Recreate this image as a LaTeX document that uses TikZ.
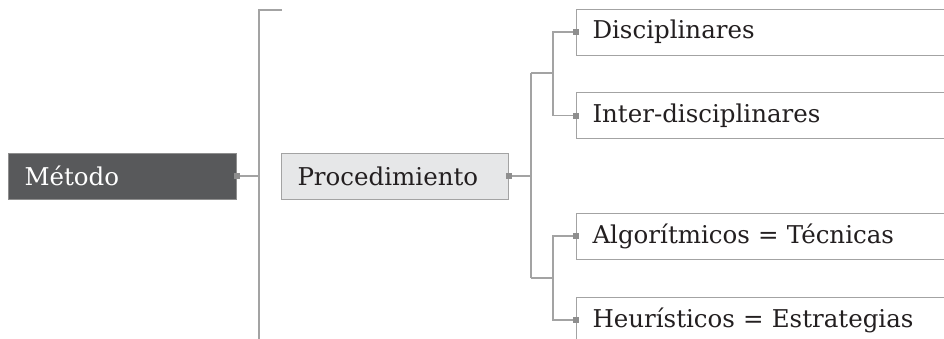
\documentclass[tikz,border=0pt]{standalone}
\usepackage{fontspec}
\setmainfont{DejaVu Serif}
\usetikzlibrary{calc}
\definecolor{linegray}{HTML}{A3A3A3}
\definecolor{dotgray}{HTML}{8E8E8E}
\definecolor{darkbox}{HTML}{58595B}
\definecolor{lightbox}{HTML}{E6E7E8}
\definecolor{inktext}{HTML}{231F20}
\tikzset{
  x=1pt, y=-1pt,
  link/.style={draw=linegray, line width=1.2pt},
  topic/.style={rectangle, draw=linegray, line width=1pt, anchor=west,
    minimum height=46pt, inner xsep=16pt, align=left,
    font=\fontsize{24.5}{28}\selectfont, text=inktext},
  dot/.style={rectangle, fill=dotgray, inner sep=0pt, minimum size=6pt}
}

\begin{document}
\begin{tikzpicture}
		%%%%% START %%%%%
		\useasboundingbox (0,0) rectangle (944,338);
		\clip (0,0) rectangle (944,338);
		
		\node[topic, fill=darkbox, text=white, draw=dotgray, text width=196pt] (metodo) at (8,176) {Método};
		\node[topic, fill=lightbox, text width=195pt] (proced) at (281,176) {Procedimiento};
		
		\node[topic, fill=white, text width=400pt] (discip) at (576,32) {Disciplinares};
		\node[topic, fill=white, text width=400pt] (inter) at (576,115.5) {Inter-disciplinares};
		\node[topic, fill=white, text width=400pt] (algor) at (576,236) {Algorítmicos = Técnicas};
		\node[topic, fill=white, text width=400pt] (heur) at (576,320) {Heurísticos = Estrategias};
		
		% main spine
		\coordinate (spineTop) at (259,10);
		\coordinate (spineBot) at (259,345);
		\coordinate (stubEnd) at (282,10);
		\draw[link] (metodo.east) -- (metodo.east -| spineTop);
		\draw[link] (stubEnd) -- (spineTop) -- (spineBot);
		
		% procedimiento branches
		\coordinate (fork) at (531,176);
		\coordinate (forkUp) at (553,73);
		\coordinate (forkDown) at (553,278);
		\draw[link] (proced.east) -- (fork);
		\draw[link] (forkUp -| fork) -- (forkDown -| fork);
		\draw[link] (forkUp -| fork) -- (forkUp);
		\draw[link] (forkDown -| fork) -- (forkDown);
		\draw[link] (discip.west) -| (forkUp) |- (inter.west);
		\draw[link] (algor.west) -| (forkDown) |- (heur.west);
		
		% small square markers
		\foreach \n/\a in {metodo/east, proced/east, discip/west, inter/west, algor/west, heur/west}
			\node[dot] at (\n.\a) {};
		%%%%% END %%%%%
	\end{tikzpicture}
\end{document}
